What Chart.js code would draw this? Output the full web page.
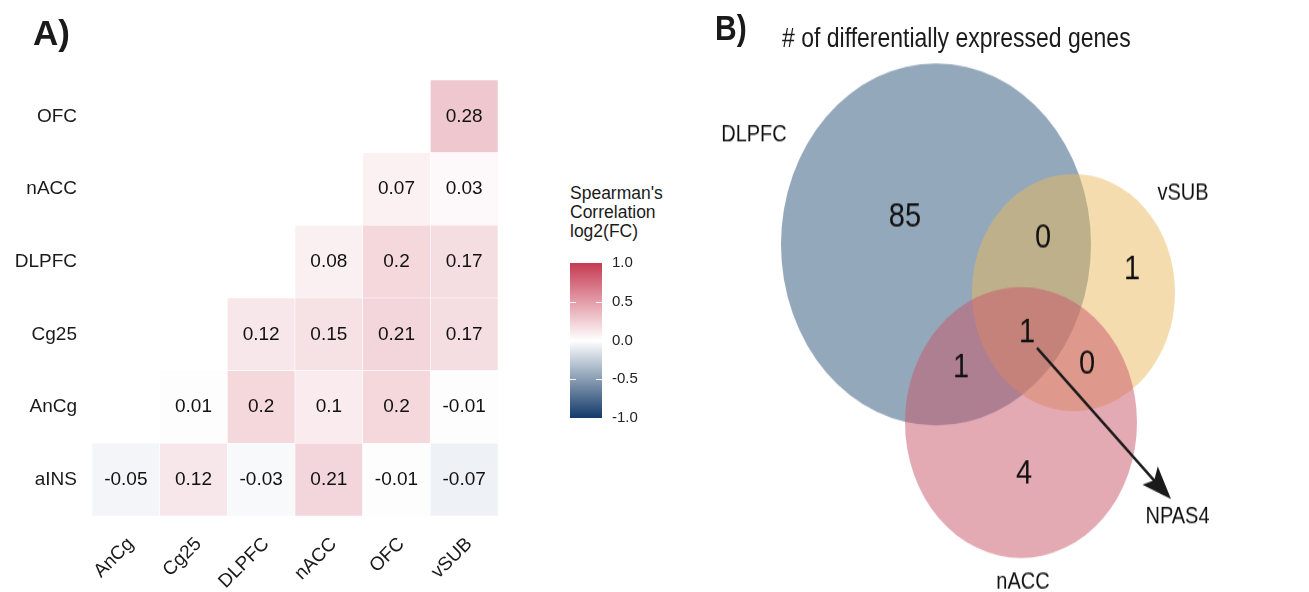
<!DOCTYPE html>
<html>
<head>
<meta charset="utf-8">
<script src="https://cdn.jsdelivr.net/npm/chart.js@4.4.1/dist/chart.umd.min.js"></script>
<style>
  body { margin: 0; background: #fff; font-family: "Liberation Sans", Arial, sans-serif; color: #1a1a1a; }
  #page { position: relative; width: 1309px; height: 592px; overflow: hidden; }
  .abs { position: absolute; }
  #tagA { left: 33px; top: 15px; font-weight: bold; font-size: 35px; line-height: 35px; }
  #legTitle { left: 570px; top: 184px; font-size: 17.5px; line-height: 19px; }
  #panelB { left: 700px; top: 0; width: 609px; height: 507px; transform: scaleY(1.168); transform-origin: 0 0; }
  #tagB { left: 15px; top: 9px; font-weight: bold; font-size: 30px; line-height: 30px; }
  #titleB { left: 82px; top: 21px; font-size: 23px; line-height: 23px; white-space: nowrap; }
</style>
</head>
<body>
<div id="page">
  <canvas id="heat" class="abs" width="545" height="592" style="left:0;top:0"></canvas>
  <div id="tagA" class="abs">A)</div>
  <div id="legTitle" class="abs">Spearman's<br>Correlation<br>log2(FC)</div>
  <canvas id="colorbar" class="abs" width="80" height="193" style="left:566px;top:244px"></canvas>
  <div id="panelB" class="abs">
    <canvas id="venn" class="abs" width="609" height="507" style="left:0;top:0"></canvas>
    <div id="tagB" class="abs">B)</div>
    <div id="titleB" class="abs"># of differentially expressed genes</div>
  </div>
</div>
<script>
// ---- data: panel A (lower triangle of correlations) ----
const rowLabels = ['aINS', 'AnCg', 'Cg25', 'DLPFC', 'nACC', 'OFC'];   // bottom -> top
const colLabels = ['AnCg', 'Cg25', 'DLPFC', 'nACC', 'OFC', 'vSUB'];
const rhoAINS  = [-0.05, 0.12, -0.03, 0.21, -0.01, -0.07];
const rhoAnCg  = [null, 0.01, 0.2, 0.1, 0.2, -0.01];
const rhoCg25  = [null, null, 0.12, 0.15, 0.21, 0.17];
const rhoDLPFC = [null, null, null, 0.08, 0.2, 0.17];
const rhoNACC  = [null, null, null, null, 0.07, 0.03];
const rhoOFC   = [null, null, null, null, null, 0.28];
const corrRows = [rhoAINS, rhoAnCg, rhoCg25, rhoDLPFC, rhoNACC, rhoOFC];
const legendTicks = [-1, -0.5, 0, 0.5, 1];

// ---- data: panel B (venn counts) ----
const setNames = ['DLPFC', 'vSUB', 'nACC'];
const regionNames = ['DLPFC', 'DLPFC&vSUB', 'vSUB', 'all', 'DLPFC&nACC', 'vSUB&nACC', 'nACC'];
const regionCounts = [85, 0, 1, 1, 1, 0, 4];
const highlightGene = 'NPAS4';

// ---- layout for the venn (layout units, not data) ----
const circleLayout = [
  { x: 2.36, y: 2.093, r: 155 },
  { x: 3.735, y: 2.504, r: 101.5 },
  { x: 3.21, y: 3.617, r: 116 }
];
const circleColors = ['rgba(39,81,117,0.5)', 'rgba(235,185,95,0.5)', 'rgba(201,85,105,0.5)'];
const regionPos = [[2.05, 1.858], [3.43, 2.038], [4.32, 2.312], [3.27, 2.851], [2.61, 3.151], [3.87, 3.116], [3.24, 4.058]];
const setLabelPos = [[0.54, 1.156], [4.83, 1.652], [3.23, 4.983]];
const genePos = [4.775, 4.426];
const arrowFrom = [3.37, 2.979];
const arrowTo = [4.71, 4.272];

Chart.defaults.font.family = '"Liberation Sans", Arial, sans-serif';
Chart.defaults.color = '#1a1a1a';

const lowCol = [18, 58, 105], midCol = [255, 255, 255], highCol = [198, 58, 82];
function corrColor(v) {
  if (v === null) return 'rgba(0,0,0,0)';
  const t = Math.min(1, Math.abs(v));
  const end = v < 0 ? lowCol : highCol;
  const c = midCol.map((m, i) => Math.round(m + (end[i] - m) * t));
  return `rgb(${c[0]},${c[1]},${c[2]})`;
}

// cell labels
const cellText = {
  id: 'cellText',
  afterDatasetsDraw(chart) {
    const ctx = chart.ctx;
    ctx.save();
    ctx.font = '19px "Liberation Sans", Arial, sans-serif';
    ctx.fillStyle = '#111';
    ctx.textAlign = 'center';
    ctx.textBaseline = 'middle';
    chart.data.datasets.forEach((ds, di) => {
      const meta = chart.getDatasetMeta(di);
      meta.data.forEach((el, i) => {
        const v = corrRows[di][i];
        if (v === null) return;
        ctx.fillText(String(v), el.x, (el.y + el.base) / 2);
      });
    });
    ctx.restore();
  }
};

new Chart(document.getElementById('heat'), {
  type: 'bar',
  data: {
    labels: colLabels,
    datasets: corrRows.map((vals, ri) => ({
      label: rowLabels[ri],
      data: vals.map(v => v === null ? null : [ri - 0.5, ri + 0.5]),
      backgroundColor: vals.map(corrColor),
      borderColor: '#ffffff',
      borderWidth: 0.6,
      borderSkipped: false,
      grouped: false,
      barPercentage: 1,
      categoryPercentage: 1
    }))
  },
  options: {
    responsive: false,
    animation: false,
    events: [],
    layout: { padding: { top: 80, right: 47, left: 0, bottom: 0 } },
    plugins: { legend: { display: false }, tooltip: { enabled: false } },
    scales: {
      x: {
        grid: { display: false, drawTicks: false },
        border: { display: false },
        ticks: { font: { size: 19 }, minRotation: 45, maxRotation: 45, padding: 17, labelOffset: 5, color: '#1a1a1a' },
        afterFit(s) { s.height = 76; }
      },
      y: {
        type: 'linear', min: -0.5, max: 5.5,
        grid: { display: false, drawTicks: false },
        border: { display: false },
        ticks: {
          padding: 15, font: { size: 19 }, color: '#1a1a1a',
          callback: v => rowLabels[v]
        },
        afterBuildTicks(s) { s.ticks = rowLabels.map((_, i) => ({ value: i })); },
        afterFit(s) { s.width = 92; }
      }
    }
  },
  plugins: [cellText]
});

// colour bar legend
const barTicks = {
  id: 'barTicks',
  afterDatasetsDraw(chart) {
    const { ctx, chartArea: a } = chart;
    const ys = chart.scales.y;
    ctx.save();
    ctx.strokeStyle = 'rgba(255,255,255,0.9)';
    ctx.lineWidth = 1;
    legendTicks.slice(1, -1).forEach(v => {
      const y = Math.round(ys.getPixelForValue(v)) + 0.5;
      ctx.beginPath();
      ctx.moveTo(a.left, y); ctx.lineTo(a.left + 6, y);
      ctx.moveTo(a.right - 6, y); ctx.lineTo(a.right, y);
      ctx.stroke();
    });
    ctx.restore();
  }
};

new Chart(document.getElementById('colorbar'), {
  type: 'bar',
  data: {
    labels: [''],
    datasets: [{
      data: [[legendTicks[0], legendTicks[legendTicks.length - 1]]],
      backgroundColor(c) {
        const a = c.chart.chartArea;
        if (!a) return '#fff';
        const g = c.chart.ctx.createLinearGradient(0, a.bottom, 0, a.top);
        legendTicks.forEach((v, i) => g.addColorStop(i / (legendTicks.length - 1), corrColor(v)));
        return g;
      },
      borderWidth: 0,
      barPercentage: 1,
      categoryPercentage: 1
    }]
  },
  options: {
    responsive: false,
    animation: false,
    events: [],
    layout: { padding: { top: 8, bottom: 8, left: 4, right: 0 } },
    plugins: { legend: { display: false }, tooltip: { enabled: false } },
    scales: {
      x: { display: false },
      y: {
        position: 'right', min: -1, max: 1,
        grid: { display: false, drawTicks: false },
        border: { display: false },
        ticks: { stepSize: 0.5, padding: 10, font: { size: 15 }, color: '#222', callback: v => v.toFixed(1) },
        afterFit(s) { s.width = 44; }
      }
    }
  },
  plugins: [barTicks]
});

// venn diagram
const vennText = {
  id: 'vennText',
  afterDatasetsDraw(chart) {
    const { ctx } = chart;
    const xs = chart.scales.x, ys = chart.scales.y;
    const px = p => [xs.getPixelForValue(p[0]), ys.getPixelForValue(p[1])];
    ctx.save();
    ctx.fillStyle = '#111';
    ctx.textBaseline = 'middle';
    ctx.textAlign = 'center';
    ctx.font = '29px "Liberation Sans", Arial, sans-serif';
    regionCounts.forEach((n, i) => {
      const [x, y] = px(regionPos[i]);
      ctx.fillText(String(n), x, y);
    });
    ctx.font = '20px "Liberation Sans", Arial, sans-serif';
    setNames.forEach((s, i) => {
      const [x, y] = px(setLabelPos[i]);
      ctx.fillText(s, x, y);
    });
    const [gx, gy] = px(genePos);
    ctx.fillText(highlightGene, gx, gy);
    // arrow head
    const [x0, y0] = px(arrowFrom), [x1, y1] = px(arrowTo);
    const ang = Math.atan2(y1 - y0, x1 - x0);
    const len = 29, half = 11;
    ctx.fillStyle = '#1a1a1a';
    ctx.beginPath();
    ctx.moveTo(x1, y1);
    ctx.lineTo(x1 - len * Math.cos(ang) + half * Math.sin(ang), y1 - len * Math.sin(ang) - half * Math.cos(ang));
    ctx.lineTo(x1 - len * 0.8 * Math.cos(ang), y1 - len * 0.8 * Math.sin(ang));
    ctx.lineTo(x1 - len * Math.cos(ang) - half * Math.sin(ang), y1 - len * Math.sin(ang) + half * Math.cos(ang));
    ctx.closePath();
    ctx.fill();
    ctx.restore();
  }
};

new Chart(document.getElementById('venn'), {
  type: 'bubble',
  data: {
    datasets: circleLayout.map((c, i) => ({
      label: setNames[i],
      data: [{ x: c.x, y: c.y, r: c.r }],
      backgroundColor: circleColors[i],
      borderWidth: 0,
      hoverRadius: 0,
      order: circleLayout.length - i,
      clip: false
    })).concat([{
      type: 'line',
      label: 'arrow',
      data: [{ x: arrowFrom[0], y: arrowFrom[1] }, { x: arrowTo[0] - 0.15, y: arrowTo[1] - 0.14 }],
      borderColor: '#1a1a1a',
      borderWidth: 2.5,
      pointRadius: 0,
      fill: false,
      order: 0,
      clip: false
    }])
  },
  options: {
    responsive: false,
    animation: false,
    events: [],
    layout: { padding: 0, autoPadding: false },
    plugins: { legend: { display: false }, tooltip: { enabled: false } },
    scales: {
      x: { type: 'linear', display: false, min: 0, max: 6.09 },
      y: { type: 'linear', display: false, min: 0, max: 5.07, reverse: true }
    }
  },
  plugins: [vennText]
});
</script>
</body>
</html>
